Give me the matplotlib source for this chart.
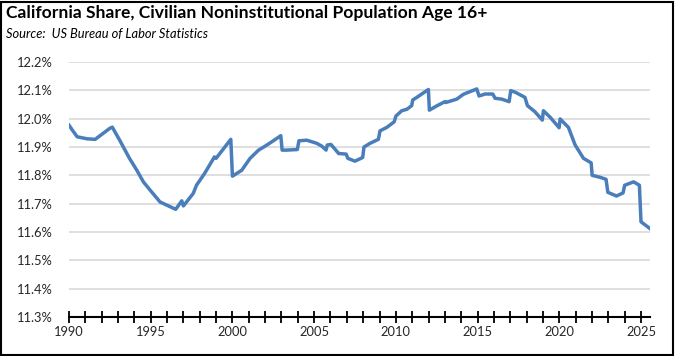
import matplotlib
matplotlib.use("Agg")
import matplotlib.pyplot as plt
from matplotlib.ticker import MultipleLocator, FixedLocator, FuncFormatter
from matplotlib.patches import Rectangle

title = "California Share, Civilian Noninstitutional Population Age 16+"
subtitle = "Source:  US Bureau of Labor Statistics"

years = [1990.0, 1990.2, 1990.5, 1991.1, 1991.6, 1992.5, 1992.65, 1993.1, 1993.7,
         1994.15, 1994.55, 1994.96, 1995.57, 1996.53, 1996.9, 1997.0, 1997.6, 1997.8,
         1998.3, 1998.9, 1999.0, 1999.9, 2000.0, 2000.57, 2001.08, 2001.6, 2002.0,
         2002.4, 2002.96, 2003.04, 2003.3, 2003.97, 2004.07, 2004.55, 2005.16, 2005.47,
         2005.73, 2005.8, 2006.03, 2006.5, 2006.96, 2007.06, 2007.5, 2007.97, 2008.05,
         2008.42, 2008.93, 2009.03, 2009.44, 2009.9, 2010.0, 2010.36, 2010.67, 2010.97,
         2011.03, 2011.28, 2011.99, 2012.05, 2012.5, 2013.0, 2013.05, 2013.73, 2014.13,
         2014.65, 2014.95, 2015.09, 2015.46, 2015.93, 2016.07, 2016.48, 2016.93, 2017.03,
         2017.35, 2017.9, 2018.05, 2018.5, 2018.96, 2019.03, 2019.44, 2019.99, 2020.05,
         2020.56, 2020.87, 2020.97, 2021.48, 2021.95, 2022.01, 2022.5, 2022.86, 2022.97,
         2023.5, 2023.9, 2024.0, 2024.55, 2024.9, 2025.0, 2025.55]
share = [11.977, 11.96, 11.936, 11.929, 11.927, 11.966, 11.970, 11.924, 11.86,
         11.818, 11.777, 11.748, 11.706, 11.680, 11.71, 11.692, 11.736, 11.765,
         11.807, 11.865, 11.86, 11.927, 11.797, 11.818, 11.86, 11.889, 11.903,
         11.918, 11.94, 11.889, 11.889, 11.891, 11.922, 11.924, 11.913, 11.903,
         11.889, 11.907, 11.909, 11.877, 11.875, 11.86, 11.85, 11.863, 11.90,
         11.913, 11.927, 11.957, 11.969, 11.989, 12.009, 12.028, 12.033, 12.046,
         12.066, 12.075, 12.103, 12.030, 12.045, 12.06, 12.057, 12.069, 12.086,
         12.098, 12.105, 12.08, 12.087, 12.087, 12.072, 12.069, 12.06, 12.099,
         12.092, 12.075, 12.046, 12.025, 11.995, 12.028, 12.005, 11.968, 11.999,
         11.969, 11.922, 11.907, 11.86, 11.844, 11.80, 11.793, 11.786, 11.74,
         11.727, 11.738, 11.765, 11.777, 11.765, 11.636, 11.612]

y_ticks = [11.3, 11.4, 11.5, 11.6, 11.7, 11.8, 11.9, 12.0, 12.1, 12.2]
x_labels = [1990, 1995, 2000, 2005, 2010, 2015, 2020, 2025]

W, H = 675, 356
fig = plt.figure(figsize=(W / 100, H / 100), dpi=100)
font = "Lato"

ax = fig.add_axes([69 / W, 1 - 317 / H, (650 - 69) / W, (317 - 62) / H])
ax.plot(years, share, color="#4A7EBB", lw=2.5, solid_joinstyle="round")
ax.set_xlim(1990, 2025.55)
ax.set_ylim(11.3, 12.2)
ax.yaxis.set_major_locator(FixedLocator(y_ticks))
ax.yaxis.set_major_formatter(FuncFormatter(lambda v, p: f"{v:.1f}%"))
ax.xaxis.set_major_locator(FixedLocator(x_labels))
ax.xaxis.set_minor_locator(MultipleLocator(1))
ax.grid(axis="y", color="#D9D9D9", lw=1.2)
ax.set_axisbelow(True)
for s in ["top", "right", "left"]:
    ax.spines[s].set_visible(False)
ax.spines["bottom"].set_color("black")
ax.spines["bottom"].set_linewidth(1.5)
ax.tick_params(axis="y", length=0, pad=12, labelsize=9.3, labelcolor="#262626")
ax.tick_params(axis="x", which="both", direction="inout", length=9, width=1.3,
               color="black", labelsize=9.3, labelcolor="#262626", pad=2)
for lab in ax.get_xticklabels() + ax.get_yticklabels():
    lab.set_fontfamily(font)

fig.text(6 / W, 1 - 13 / H, title, fontsize=12.6, fontweight="bold",
         fontfamily=font, va="center", ha="left")
fig.text(6 / W, 1 - 34 / H, subtitle, fontsize=9.3, fontstyle="italic",
         fontfamily=font, va="center", ha="left")

fig.patches.append(Rectangle((1 / W, 1 / H), (W - 3.5) / W, (H - 2.5) / H,
                             transform=fig.transFigure, fill=False,
                             edgecolor="black", lw=1.5))

fig.savefig("out.png", dpi=100)
